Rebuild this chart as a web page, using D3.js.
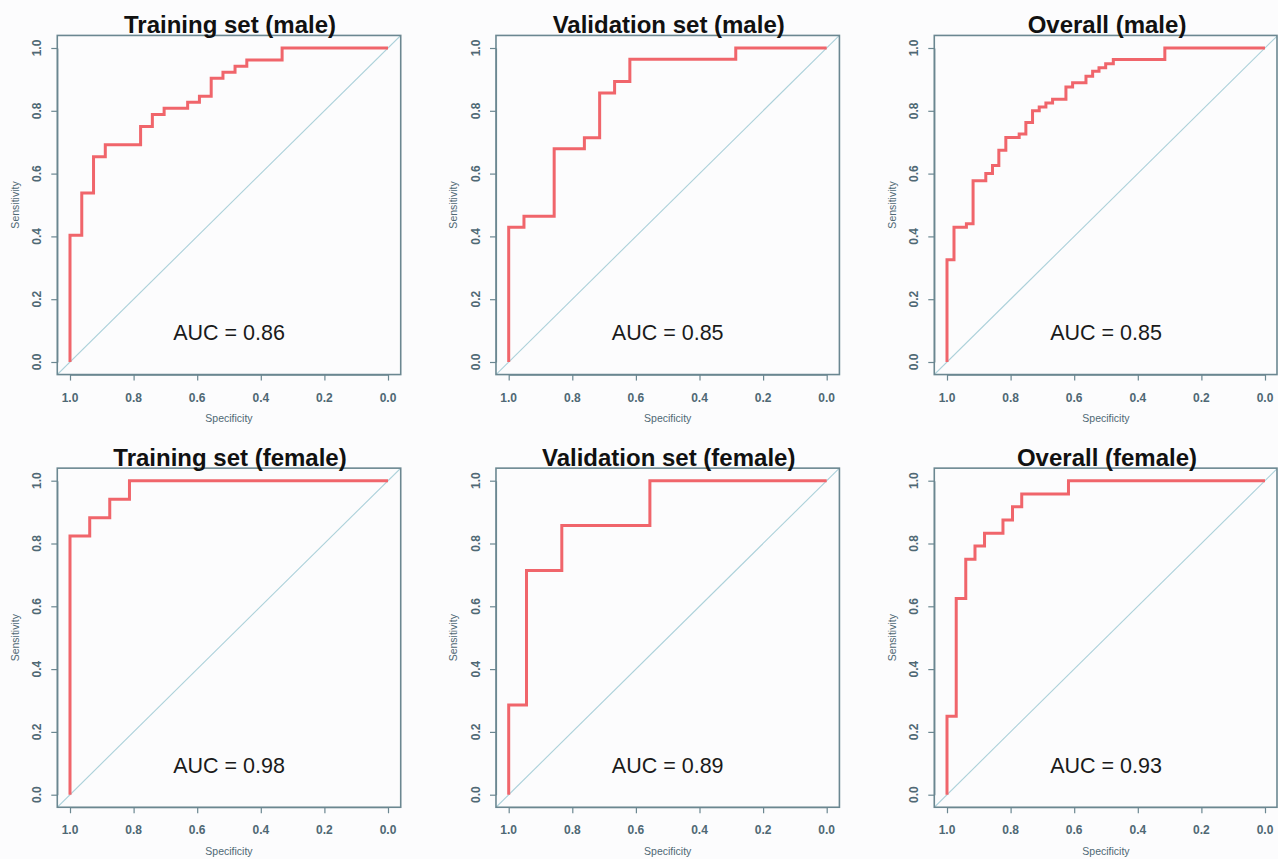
<!DOCTYPE html>
<html>
<head>
<meta charset="utf-8">
<script src="https://cdn.jsdelivr.net/npm/d3@7"></script>
<style>
  html, body { margin: 0; padding: 0; background: #fcfcfd; }
  svg { display: block; }
  text { font-family: "Liberation Sans", Arial, sans-serif; }
</style>
</head>
<body>
<svg id="chart" width="1278" height="859"></svg>
<script>
// ---- Data ----
const titles = ["Training set (male)", "Validation set (male)", "Overall (male)",
                "Training set (female)", "Validation set (female)", "Overall (female)"];
const aucLabels = ["AUC = 0.86", "AUC = 0.85", "AUC = 0.85", "AUC = 0.98", "AUC = 0.89", "AUC = 0.93"];
const tickValues = [1.0, 0.8, 0.6, 0.4, 0.2, 0.0];
const xTitle = "Specificity";
const yTitle = "Sensitivity";

const specTrainMale = [1, 0.963, 0.926, 0.889, 0.778, 0.741, 0.704, 0.630, 0.593, 0.556, 0.519, 0.481, 0.444, 0.333, 0];
const sensTrainMale = [0, 0.404, 0.538, 0.654, 0.692, 0.750, 0.788, 0.808, 0.827, 0.846, 0.904, 0.923, 0.942, 0.962, 1];

const specValidMale = [1, 0.952, 0.857, 0.762, 0.714, 0.667, 0.619, 0.286, 0];
const sensValidMale = [0, 0.429, 0.464, 0.679, 0.714, 0.857, 0.893, 0.964, 1];

const specOverallMale = [1, 0.978, 0.939, 0.918, 0.878, 0.857, 0.837, 0.815, 0.773, 0.752, 0.731, 0.710, 0.689, 0.668, 0.626, 0.605, 0.563, 0.542, 0.522, 0.501, 0.477, 0.315, 0];
const sensOverallMale = [0, 0.326, 0.429, 0.440, 0.577, 0.600, 0.626, 0.674, 0.715, 0.726, 0.763, 0.800, 0.812, 0.825, 0.837, 0.876, 0.889, 0.910, 0.926, 0.937, 0.950, 0.963, 1];

const specTrainFemale = [1, 0.938, 0.875, 0.813, 0];
const sensTrainFemale = [0, 0.824, 0.882, 0.941, 1];

const specValidFemale = [1, 0.944, 0.833, 0.556, 0];
const sensValidFemale = [0, 0.286, 0.714, 0.857, 1];

const specOverallFemale = [1, 0.971, 0.941, 0.912, 0.882, 0.824, 0.794, 0.765, 0.618, 0];
const sensOverallFemale = [0, 0.250, 0.625, 0.750, 0.792, 0.833, 0.875, 0.917, 0.958, 1];

const specs = [specTrainMale, specValidMale, specOverallMale, specTrainFemale, specValidFemale, specOverallFemale];
const senss = [sensTrainMale, sensValidMale, sensOverallMale, sensTrainFemale, sensValidFemale, sensOverallFemale];

// ---- Layout ----
const colX1 = [70, 508.7, 947];      // pixel of specificity = 1
const rowY1 = [48, 480.7];           // pixel of sensitivity = 1
const plotW = 318, plotH = 314;
const boxColor = "#6b8791";
const labelColor = "#4f6874";
const curveColor = "#f0656b";
const diagColor = "#acd1da";

const svg = d3.select("#chart");

titles.forEach((title, i) => {
  const c = i % 3, r = Math.floor(i / 3);
  const x = d3.scaleLinear().domain([1, 0]).range([colX1[c], colX1[c] + plotW]);
  const y = d3.scaleLinear().domain([0, 1]).range([rowY1[r] + plotH, rowY1[r]]);
  const g = svg.append("g");

  const bx0 = x(1.04), bx1 = Math.min(x(-0.04), 1277);
  const by0 = y(1.04), by1 = y(-0.04);

  // clip for the diagonal
  const clipId = "clip" + i;
  g.append("clipPath").attr("id", clipId)
    .append("rect").attr("x", bx0).attr("y", by0).attr("width", bx1 - bx0).attr("height", by1 - by0);

  // diagonal reference line
  g.append("line")
    .attr("clip-path", `url(#${clipId})`)
    .attr("x1", x(1.04)).attr("y1", y(-0.04))
    .attr("x2", x(-0.04)).attr("y2", y(1.04))
    .attr("stroke", diagColor).attr("stroke-width", 1.1);

  // ROC curve
  const pts = specs[i].map((s, k) => [s, senss[i][k]]);
  const line = d3.line().x(d => x(d[0])).y(d => y(d[1])).curve(d3.curveStepBefore);
  g.append("path").datum(pts)
    .attr("d", line)
    .attr("fill", "none")
    .attr("stroke", curveColor)
    .attr("stroke-width", 3)
    .attr("stroke-linejoin", "miter");

  // box
  g.append("rect")
    .attr("x", bx0).attr("y", by0).attr("width", bx1 - bx0).attr("height", by1 - by0)
    .attr("fill", "none").attr("stroke", boxColor).attr("stroke-width", 1.6);

  // x axis
  const xAxis = g.append("g")
    .attr("transform", `translate(0,${by1})`)
    .call(d3.axisBottom(x).tickValues(tickValues).tickFormat(d3.format(".1f")).tickSize(6).tickSizeOuter(0));
  xAxis.select(".domain").attr("stroke", boxColor).attr("stroke-width", 1.2);
  xAxis.selectAll(".tick line").attr("stroke", boxColor).attr("stroke-width", 1.2);
  xAxis.selectAll(".tick text").remove();
  tickValues.forEach(v => {
    g.append("text")
      .attr("x", x(v)).attr("y", y(0) + 39.5)
      .attr("text-anchor", "middle")
      .attr("font-size", 12).attr("font-weight", "bold")
      .attr("fill", labelColor)
      .text(d3.format(".1f")(v));
  });

  // y axis
  const yAxis = g.append("g")
    .attr("transform", `translate(${bx0},0)`)
    .call(d3.axisLeft(y).tickValues(tickValues).tickSize(6).tickSizeOuter(0));
  yAxis.select(".domain").attr("stroke", boxColor).attr("stroke-width", 1.2);
  yAxis.selectAll(".tick line").attr("stroke", boxColor).attr("stroke-width", 1.2);
  yAxis.selectAll(".tick text").remove();
  tickValues.forEach(v => {
    const tx = x(1) - 33.5 + 4.3, ty = y(v);
    g.append("text")
      .attr("transform", `translate(${tx},${ty}) rotate(-90)`)
      .attr("text-anchor", "middle")
      .attr("font-size", 12).attr("font-weight", "bold")
      .attr("fill", labelColor)
      .text(d3.format(".1f")(v));
  });

  // axis titles
  g.append("text")
    .attr("x", (x(1) + x(0)) / 2).attr("y", y(0) + 60)
    .attr("text-anchor", "middle")
    .attr("font-size", 10.5)
    .attr("fill", labelColor)
    .text(xTitle);
  g.append("text")
    .attr("transform", `translate(${x(1) - 55 + 3.6},${(y(0) + y(1)) / 2}) rotate(-90)`)
    .attr("text-anchor", "middle")
    .attr("font-size", 10.5)
    .attr("fill", labelColor)
    .text(yTitle);

  // title
  g.append("text")
    .attr("x", (x(1) + x(0)) / 2 + 1).attr("y", y(1) - 15)
    .attr("text-anchor", "middle")
    .attr("font-size", 24).attr("font-weight", "bold")
    .attr("fill", "#111")
    .text(title);

  // AUC label
  g.append("text")
    .attr("x", x(0.5)).attr("y", y(0.07))
    .attr("text-anchor", "middle")
    .attr("font-size", 21.5)
    .attr("fill", "#1a1a1a")
    .text(aucLabels[i]);
});
</script>
</body>
</html>
